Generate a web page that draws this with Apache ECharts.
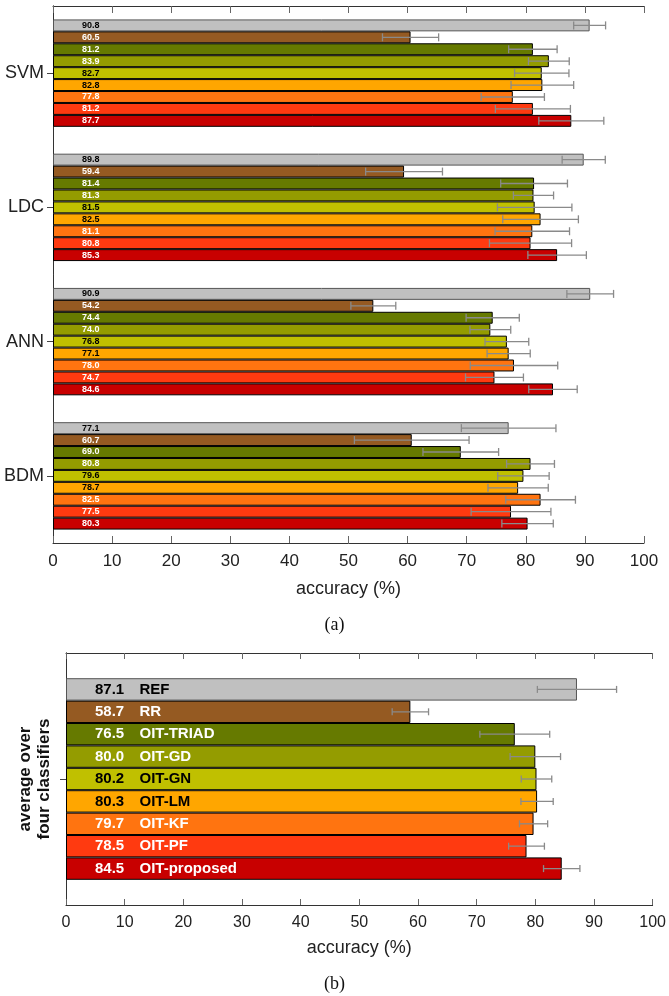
<!DOCTYPE html>
<html><head><meta charset="utf-8">
<script src="https://cdn.jsdelivr.net/npm/echarts@6/dist/echarts.min.js"></script>
<style>html,body{margin:0;padding:0;background:#fff}#c{width:669px;height:996px}</style>
</head><body><div id="c"></div>
<script>
// ---- data ----
const classifiers = ['SVM', 'LDC', 'ANN', 'BDM'];
const methods = ['REF', 'RR', 'OIT-TRIAD', 'OIT-GD', 'OIT-GN', 'OIT-LM', 'OIT-KF', 'OIT-PF', 'OIT-proposed'];
// accuracy per classifier, in method order
const accSVM = [90.8, 60.5, 81.2, 83.9, 82.7, 82.8, 77.8, 81.2, 87.7];
const accLDC = [89.8, 59.4, 81.4, 81.3, 81.5, 82.5, 81.1, 80.8, 85.3];
const accANN = [90.9, 54.2, 74.4, 74.0, 76.8, 77.1, 78.0, 74.7, 84.6];
const accBDM = [77.1, 60.7, 69.0, 80.8, 79.6, 78.7, 82.5, 77.5, 80.3];
// half-width of error bars
const errSVM = [2.7, 4.75, 4.1, 3.45, 4.6, 5.3, 5.35, 6.35, 5.5];
const errLDC = [3.65, 6.5, 5.65, 3.4, 6.3, 6.4, 6.3, 6.95, 4.95];
const errANN = [3.95, 3.8, 4.5, 3.45, 3.7, 3.65, 7.4, 4.9, 4.1];
const errBDM = [8.0, 9.7, 6.4, 4.05, 4.35, 5.1, 5.9, 6.75, 4.35];
// average over four classifiers
const accAvg = [87.1, 58.7, 76.5, 80.0, 80.2, 80.3, 79.7, 78.5, 84.5];
const errAvg = [6.75, 3.1, 5.95, 4.3, 2.6, 2.75, 2.4, 3.05, 3.1];
const avgCategory = ['average'];
const xMin = 0, xMax = 100, xStep = 10;

// ---- styles ----
const barColors = ['#c0c0c0', '#955a22', '#667a00', '#949c00', '#c0c000', '#ffa600', '#ff7410', '#ff3a10', '#c80000'];
const labelColors = ['#000', '#fff', '#fff', '#fff', '#000', '#000', '#fff', '#fff', '#fff'];
const borderColors = ['#555', '#000', '#000', '#000', '#000', '#000', '#000', '#000', '#000'];
const accTop = [accSVM, accLDC, accANN, accBDM];
const errTop = [errSVM, errLDC, errANN, errBDM];
const nM = methods.length;
const FONT = 'Liberation Sans, Arial, sans-serif';
const axisCol = '#333';

function errRenderer(capH) {
  return function (params, api) {
    const v = api.value(0), ci = api.value(1), e = api.value(2), m = api.value(3);
    const band = api.size([0, 1])[1];
    const bw = band * 0.8 / nM;
    const yc = api.coord([v, ci])[1] - band * 0.4 + bw * (m + 0.5);
    const xl = api.coord([v - e, ci])[0], xr = api.coord([v + e, ci])[0];
    const st = { stroke: '#8a8a8a', lineWidth: 1.3 };
    return {
      type: 'group', children: [
        { type: 'line', shape: { x1: xl, y1: yc, x2: xr, y2: yc }, style: st },
        { type: 'line', shape: { x1: xl, y1: yc - capH / 2, x2: xl, y2: yc + capH / 2 }, style: st },
        { type: 'line', shape: { x1: xr, y1: yc - capH / 2, x2: xr, y2: yc + capH / 2 }, style: st }
      ]
    };
  };
}

const series = [];
for (let m = 0; m < nM; m++) {
  series.push({
    type: 'bar', name: methods[m], xAxisIndex: 0, yAxisIndex: 0,
    data: accTop.map(a => a[m]),
    barGap: '0%', barCategoryGap: '20%',
    itemStyle: { color: barColors[m], borderColor: borderColors[m], borderWidth: 1 },
    label: {
      show: true, position: [29, '50%'], align: 'left', verticalAlign: 'middle',
      fontFamily: FONT, fontSize: 9, fontWeight: 'bold', color: labelColors[m],
      formatter: p => p.value.toFixed(1)
    },
    silent: true, animation: false
  });
}
const errTopData = [];
for (let ci = 0; ci < classifiers.length; ci++)
  for (let m = 0; m < nM; m++) errTopData.push([accTop[ci][m], ci, errTop[ci][m], m]);
series.push({
  type: 'custom', xAxisIndex: 0, yAxisIndex: 0, data: errTopData,
  encode: { x: 0, y: 1 }, renderItem: errRenderer(8), z: 5, animation: false, silent: true
});

for (let m = 0; m < nM; m++) {
  series.push({
    type: 'bar', name: methods[m] + ' avg', xAxisIndex: 2, yAxisIndex: 2,
    data: [accAvg[m]],
    barGap: '0%', barCategoryGap: '20%',
    itemStyle: { color: barColors[m], borderColor: borderColors[m], borderWidth: 1 },
    label: {
      show: true, position: [29, '50%'], align: 'left', verticalAlign: 'middle',
      formatter: p => '{v|' + p.value.toFixed(1) + '}{n|' + methods[m] + '}',
      rich: {
        v: { fontFamily: FONT, fontSize: 15, fontWeight: 'bold', color: labelColors[m], width: 44.5, align: 'left' },
        n: { fontFamily: FONT, fontSize: 15, fontWeight: 'bold', color: labelColors[m], align: 'left' }
      }
    },
    silent: true, animation: false
  });
}
series.push({
  type: 'custom', xAxisIndex: 2, yAxisIndex: 2, data: accAvg.map((v, m) => [v, 0, errAvg[m], m]),
  encode: { x: 0, y: 1 }, renderItem: errRenderer(7), z: 5, animation: false, silent: true
});

function xAx(grid, pos, showLabel, fs, tickLen, name, nameGap) {
  return {
    gridIndex: grid, type: 'value', position: pos, min: xMin, max: xMax, interval: xStep,
    axisLine: { show: true, lineStyle: { color: axisCol, width: 1 } },
    axisTick: { show: true, inside: true, length: tickLen, lineStyle: { color: '#666' } },
    axisLabel: { show: showLabel, fontFamily: FONT, fontSize: fs, color: '#222', margin: 10 },
    splitLine: { show: false },
    name: name, nameLocation: 'middle', nameGap: nameGap,
    nameTextStyle: { fontFamily: FONT, fontSize: 18, color: '#222' }
  };
}
function yAx(grid, pos, data, showLabel, extra) {
  return Object.assign({
    gridIndex: grid, type: 'category', position: pos, data: data, inverse: true,
    axisLine: { show: true, lineStyle: { color: axisCol, width: 1 } },
    axisTick: { show: true, inside: true, alignWithLabel: true, length: 6, lineStyle: { color: '#444' } },
    axisLabel: { show: showLabel, fontFamily: FONT, fontSize: 18, color: '#222', margin: 9 },
    splitLine: { show: false }
  }, extra || {});
}

const option = {
  animation: false,
  backgroundColor: '#fff',
  grid: [
    { left: 53, top: 6, width: 591, height: 537 },
    { left: 66, top: 653, width: 592, height: 252 }
  ],
  xAxis: [
    xAx(0, 'bottom', true, 17, 7, 'accuracy (%)', 37),
    xAx(0, 'top', false, 17, 7, '', 0),
    xAx(1, 'bottom', true, 16, 6, 'accuracy (%)', 34),
    xAx(1, 'top', false, 16, 6, '', 0)
  ],
  yAxis: [
    yAx(0, 'left', classifiers, true),
    yAx(0, 'right', classifiers, false),
    yAx(1, 'left', avgCategory, false, {
      name: 'average over\nfour classifiers', nameLocation: 'middle', nameRotate: 90, nameGap: 12,
      nameTextStyle: { fontFamily: FONT, fontSize: 17, fontWeight: 'bold', color: '#111', lineHeight: 19, align: 'center' }
    }),
    yAx(1, 'right', avgCategory, false)
  ],
  graphic: [
    { type: 'text', left: 'center', top: 616, style: { text: '(a)', font: '18px "Liberation Serif", serif', fill: '#111' } },
    { type: 'text', left: 'center', top: 975, style: { text: '(b)', font: '18px "Liberation Serif", serif', fill: '#111' } }
  ],
  series: series
};
const chart = echarts.init(document.getElementById('c'), null, { renderer: 'canvas' });
chart.setOption(option);
</script></body></html>
